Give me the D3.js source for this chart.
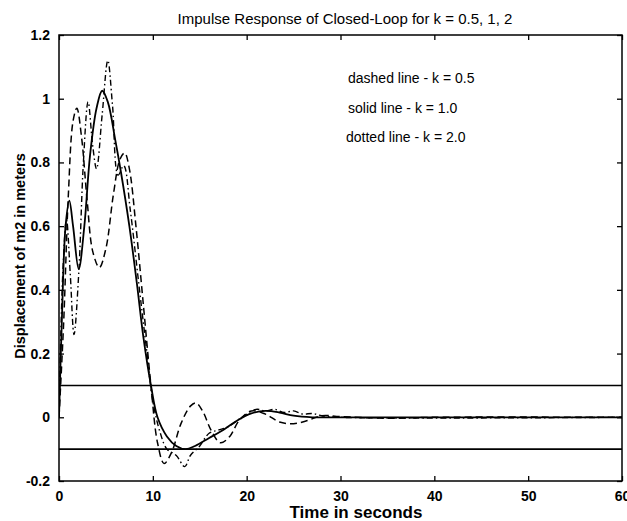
<!DOCTYPE html>
<html>
<head>
<meta charset="utf-8">
<script src="https://cdn.jsdelivr.net/npm/d3@7"></script>
<style>
  body { margin: 0; background: #fff; }
  text { font-family: "Liberation Sans", Arial, sans-serif; fill: #000; }
</style>
</head>
<body>
<script>
// k = 0.5 (dashed)
var tHalf = [0, 0.5, 1.0, 1.5, 1.9, 2.4, 3.0, 3.6, 4.3, 5.0, 5.8, 6.5, 7.0, 7.5, 8.2, 9.0, 9.8, 10.5, 11.2, 12.0, 13.0, 14.0, 14.6, 15.3, 16.2, 17.2, 18.2, 19.2, 20.5, 22, 23.5, 25, 26.5, 28, 30, 35, 40, 60];
var yHalf = [0, 0.3, 0.7, 0.93, 0.97, 0.88, 0.68, 0.52, 0.47, 0.53, 0.7, 0.81, 0.83, 0.78, 0.6, 0.35, 0.1, -0.08, -0.145, -0.11, -0.02, 0.035, 0.045, 0.02, -0.04, -0.08, -0.06, -0.01, 0.02, 0.01, -0.015, -0.02, -0.01, 0.005, 0.002, -0.003, 0, 0];

// k = 1.0 (solid)
var tOne = [0, 0.3, 0.7, 1.1, 1.5, 2.1, 2.7, 3.3, 4.0, 4.6, 5.2, 6.0, 6.6, 7.5, 8.3, 9.0, 9.8, 10.5, 11.5, 12.5, 13.5, 14.5, 16, 17.5, 19, 20.5, 22, 23.5, 25, 27, 30, 60];
var yOne = [0, 0.3, 0.6, 0.68, 0.6, 0.465, 0.6, 0.82, 0.97, 1.025, 0.99, 0.87, 0.77, 0.6, 0.42, 0.25, 0.1, 0.0, -0.06, -0.09, -0.1, -0.09, -0.065, -0.04, -0.01, 0.012, 0.02, 0.015, 0.005, 0, 0, 0];

// k = 2.0 (dotted)
var tTwo = [0, 0.4, 0.8, 1.2, 1.6, 2.1, 2.6, 3.1, 3.6, 4.0, 4.6, 5.2, 5.7, 6.3, 6.9, 7.6, 8.5, 9.3, 10.0, 10.8, 11.5, 12.5, 13.4, 14.0, 15, 16, 17, 18, 19.5, 21, 22, 23, 24, 25, 26, 27, 28, 30, 60];
var yTwo = [0, 0.45, 0.62, 0.45, 0.26, 0.45, 0.8, 0.99, 0.85, 0.78, 0.95, 1.12, 0.98, 0.76, 0.79, 0.65, 0.42, 0.22, 0.05, -0.05, -0.1, -0.12, -0.155, -0.12, -0.09, -0.05, -0.04, -0.03, 0, 0.025, 0.02, 0.025, 0.015, 0.02, 0.01, 0.012, 0.005, 0, 0];

var xTicks = [0, 10, 20, 30, 40, 50, 60];
var yTicks = [-0.2, 0, 0.2, 0.4, 0.6, 0.8, 1, 1.2];
var bandLines = [0.1, -0.1];
var legendLines = ['dashed line - k = 0.5', 'solid line - k = 1.0', 'dotted line - k = 2.0'];

var padL = 59, padR = 622, padT = 35, padB = 481;

var svg = d3.select('body').append('svg')
        .attr('width', 627)
        .attr('height', 521);

var x = d3.scaleLinear().domain([0, 60]).range([padL, padR]);
var y = d3.scaleLinear().domain([-0.2, 1.2]).range([padB, padT]);

// axes with inward ticks on all four sides
svg.append('g')
  .attr('transform', 'translate(0,' + padB + ')')
  .call(d3.axisBottom(x).tickValues(xTicks).tickSize(-5).tickPadding(10).tickFormat(d3.format('d')));
svg.append('g')
  .attr('transform', 'translate(0,' + padT + ')')
  .call(d3.axisTop(x).tickValues(xTicks).tickSize(-5).tickFormat(''));
svg.append('g')
  .attr('transform', 'translate(' + padL + ',0)')
  .call(d3.axisLeft(y).tickValues(yTicks).tickSize(-5).tickPadding(9).tickFormat(function(d) { return String(+d.toFixed(1)); }));
svg.append('g')
  .attr('transform', 'translate(' + padR + ',0)')
  .call(d3.axisRight(y).tickValues(yTicks).tickSize(-5).tickFormat(''));

svg.selectAll('.domain').remove();
svg.selectAll('.tick line').attr('stroke', '#000').attr('stroke-width', 1.3);
svg.selectAll('.tick text')
  .style('font-size', '14px')
  .style('font-weight', 'bold')
  .style('font-family', '"Liberation Sans", Arial, sans-serif');

svg.append('rect')
  .attr('x', padL).attr('y', padT)
  .attr('width', padR - padL).attr('height', padB - padT)
  .attr('fill', 'none').attr('stroke', '#000').attr('stroke-width', 1.5);

svg.selectAll('line.band')
  .data(bandLines)
  .enter().append('line')
    .attr('class', 'band')
    .attr('x1', padL).attr('x2', padR)
    .attr('y1', function(d) { return y(d); })
    .attr('y2', function(d) { return y(d); })
    .attr('stroke', '#000')
    .attr('stroke-width', 1.6);

var line = d3.line()
  .x(function(d) { return x(d[0]); })
  .y(function(d) { return y(d[1]); })
  .curve(d3.curveCatmullRom);

function pairs(t, v) {
  return t.map(function(d, i) { return [d, v[i]]; });
}

svg.append('clipPath').attr('id', 'plot')
  .append('rect').attr('x', padL).attr('y', padT).attr('width', padR - padL).attr('height', padB - padT);

var series = [
  {data: pairs(tHalf, yHalf), dash: '7,4', w: 1.5},
  {data: pairs(tTwo, yTwo), dash: '6,3,1.5,3', w: 1.4},
  {data: pairs(tOne, yOne), dash: null, w: 1.8}
];

svg.selectAll('path.resp')
  .data(series)
  .enter().append('path')
    .attr('class', 'resp')
    .attr('clip-path', 'url(#plot)')
    .attr('d', function(d) { return line(d.data); })
    .attr('fill', 'none')
    .attr('stroke', '#000')
    .attr('stroke-width', function(d) { return d.w; })
    .attr('stroke-dasharray', function(d) { return d.dash; });

svg.append('text')
  .attr('x', 345).attr('y', 24)
  .attr('text-anchor', 'middle')
  .style('font-size', '15px')
  .text('Impulse Response of Closed-Loop for k = 0.5, 1, 2');

svg.selectAll('text.legend')
  .data(legendLines)
  .enter().append('text')
    .attr('class', 'legend')
    .attr('x', function(d, i) { return i == 2 ? 346 : 348; })
    .attr('y', function(d, i) { return 83 + i * 29.5; })
    .style('font-size', '14px')
    .text(function(d) { return d; });

svg.append('text')
  .attr('x', 356).attr('y', 518)
  .attr('text-anchor', 'middle')
  .style('font-size', '17px')
  .style('font-weight', 'bold')
  .text('Time in seconds');

svg.append('text')
  .attr('transform', 'translate(25,256) rotate(-90)')
  .attr('text-anchor', 'middle')
  .style('font-size', '14.5px')
  .style('font-weight', 'bold')
  .text('Displacement of m2 in meters');
</script>
</body>
</html>
